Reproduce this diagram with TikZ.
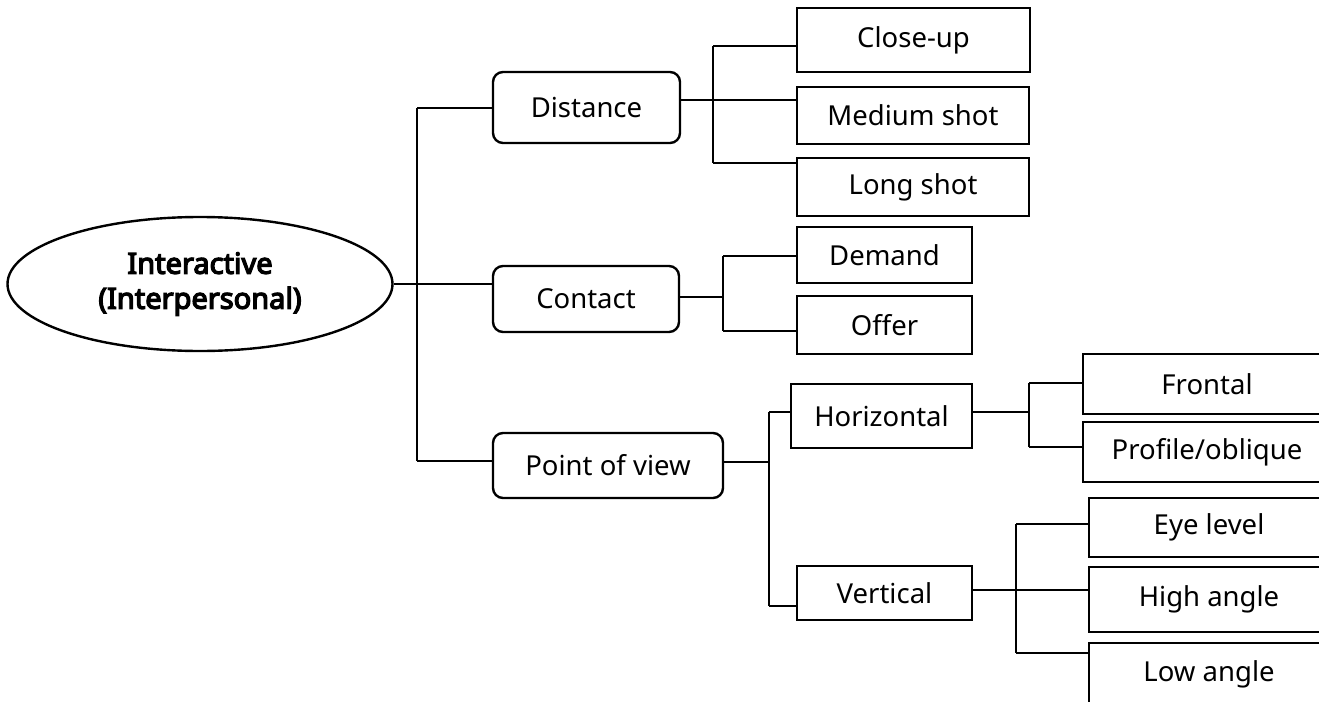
\documentclass[tikz,border=0pt]{standalone}
\usepackage{fontspec}
\setmainfont{Noto Sans}[AutoFakeBold=4.5]
\usetikzlibrary{shapes.geometric}

\begin{document}
\begin{tikzpicture}[x=1pt,y=-1pt,
	txt/.style={font=\fontsize{27.5}{33}\selectfont,inner sep=0pt},
	rootnode/.style={txt,draw=black,ellipse,line width=2.4pt,align=center,font=\fontsize{29}{35}\selectfont\bfseries},
	catbox/.style={txt,draw=black,rounded corners=10pt,line width=2.4pt},
	leafbox/.style={txt,draw=black,line width=2.4pt},
	link/.style={draw=black,line width=2.4pt}]

	\useasboundingbox (0,0) rectangle (1319,701);
	\clip (0,0) rectangle (1319,701);

	\node[rootnode,minimum width=385,minimum height=134] (root) at (200,284) {Interactive\\(Interpersonal)};

	\node[catbox,minimum width=187,minimum height=71] (dist) at (586.5,107.5) {Distance};
	\node[catbox,minimum width=186,minimum height=66] (cont) at (586,299) {Contact};
	\node[catbox,minimum width=230,minimum height=65] (pov) at (608,465.5) {Point of view};

	\node[leafbox,minimum width=233,minimum height=64] (cu) at (913.5,40) {Close-up};
	\node[leafbox,minimum width=232,minimum height=57] (ms) at (913,115.5) {Medium shot};
	\node[leafbox,minimum width=232,minimum height=58] (ls) at (913,187) {Long shot};

	\node[leafbox,minimum width=175,minimum height=56] (dem) at (884.5,255) {Demand};
	\node[leafbox,minimum width=175,minimum height=58] (off) at (884.5,325) {Offer};

	\node[leafbox,minimum width=181,minimum height=64] (hor) at (881.5,416) {Horizontal};
	\node[leafbox,minimum width=175,minimum height=54] (ver) at (884.5,593) {Vertical};

	\node[leafbox,minimum width=248,minimum height=60] (fro) at (1207,384) {Frontal};
	\node[leafbox,minimum width=248,minimum height=60] (pro) at (1207,452) {Profile/oblique};
	\node[leafbox,minimum width=240,minimum height=59] (eye) at (1209,527.5) {Eye level};
	\node[leafbox,minimum width=240,minimum height=65] (high) at (1209,599.5) {High angle};
	\node[leafbox,minimum width=240,minimum height=62] (low) at (1209,674) {Low angle};

	% elbow points
	\coordinate (s1) at (417,108);
	\coordinate (s3) at (417,461);
	\coordinate (d0) at (713,100);
	\coordinate (d1) at (713,46);
	\coordinate (d2) at (713,163);
	\coordinate (c0) at (723,297);
	\coordinate (c1) at (723,256);
	\coordinate (c2) at (723,331);
	\coordinate (p0) at (769,462);
	\coordinate (p1) at (769,412);
	\coordinate (p2) at (769,606);
	\coordinate (h1) at (1029,383);
	\coordinate (h2) at (1029,447);
	\coordinate (v0) at (1016,590);
	\coordinate (v1) at (1016,524);
	\coordinate (v2) at (1016,653);

	\path[link] (root.east) -- (root.east -| cont.west);
	\path[link] (s1) -- (s3);
	\path[link] (s1) -- (s1 -| dist.west);
	\path[link] (s3) -- (s3 -| pov.west);

	\path[link] (d0 -| dist.east) -- (d0 -| ms.west);
	\path[link] (d1) -- (d2);
	\path[link] (d1) -- (d1 -| cu.west);
	\path[link] (d2) -- (d2 -| ls.west);

	\path[link] (c0 -| cont.east) -- (c0);
	\path[link] (c1) -- (c2);
	\path[link] (c1) -- (c1 -| dem.west);
	\path[link] (c2) -- (c2 -| off.west);

	\path[link] (p0 -| pov.east) -- (p0);
	\path[link] (p1) -- (p2);
	\path[link] (p1) -- (p1 -| hor.west);
	\path[link] (p2) -- (p2 -| ver.west);

	\path[link] (p1 -| hor.east) -- (p1 -| h1);
	\path[link] (h1) -- (h2);
	\path[link] (h1) -- (h1 -| fro.west);
	\path[link] (h2) -- (h2 -| pro.west);

	\path[link] (v0 -| ver.east) -- (v0 -| high.west);
	\path[link] (v1) -- (v2);
	\path[link] (v1) -- (v1 -| eye.west);
	\path[link] (v2) -- (v2 -| low.west);

\end{tikzpicture}
\end{document}
